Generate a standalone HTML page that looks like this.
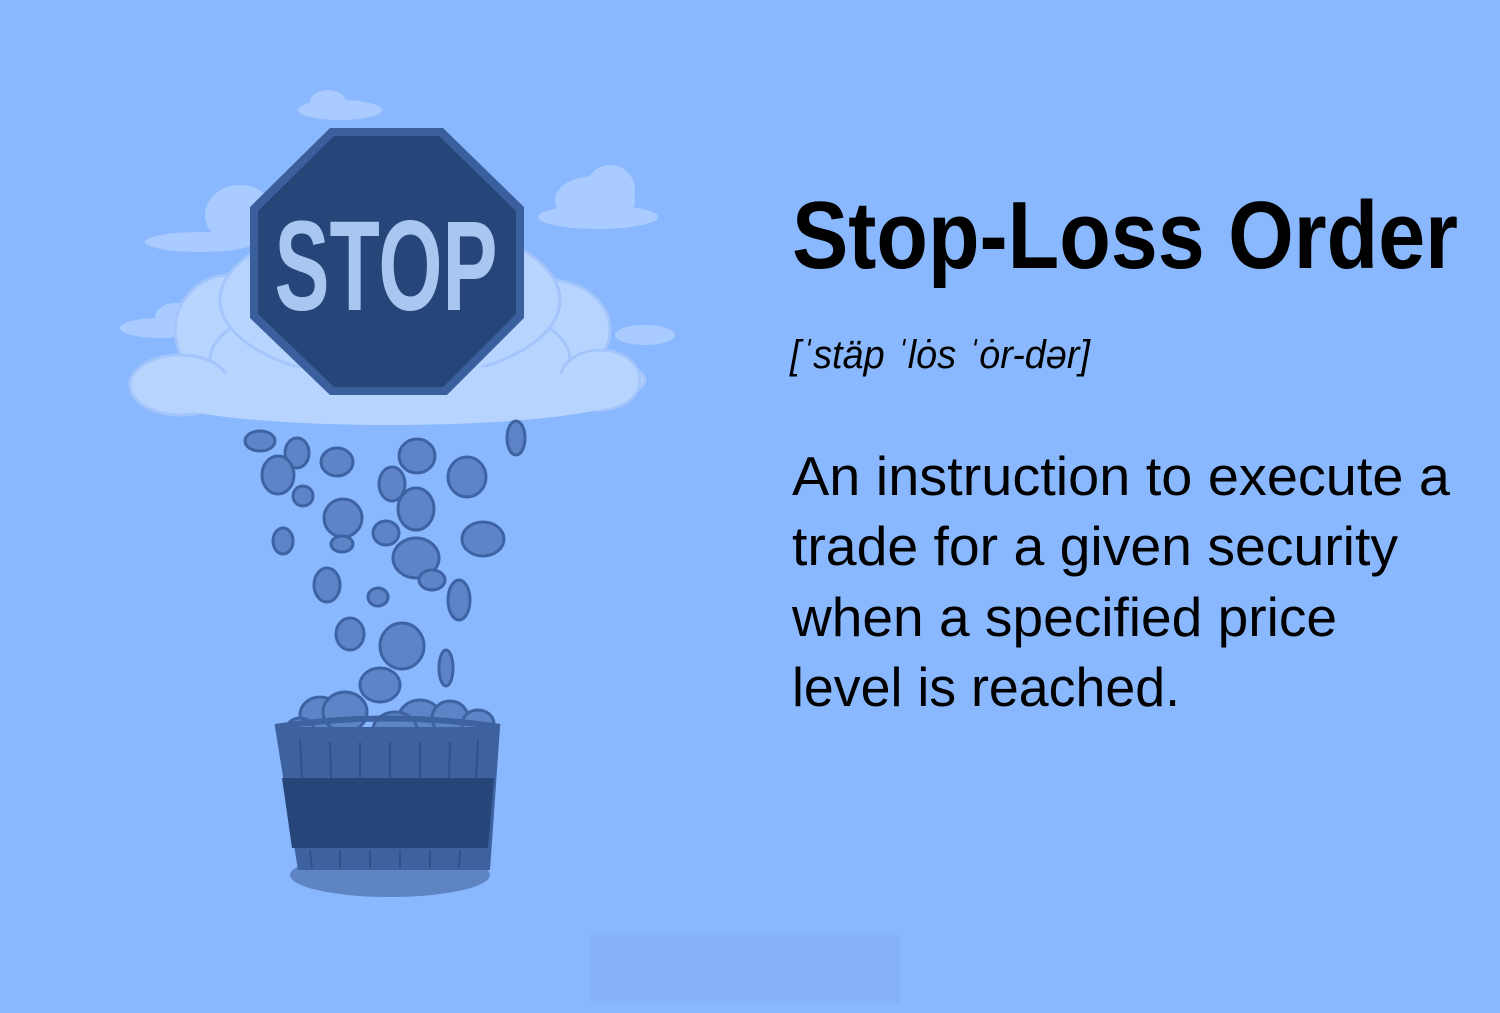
<!DOCTYPE html>
<html><head><meta charset="utf-8"><style>
html,body{margin:0;padding:0;background:#8ab8fe;}
svg{display:block}
text{font-family:"Liberation Sans",sans-serif;}
</style></head><body>
<svg width="1500" height="1013" viewBox="0 0 1500 1013">
<rect width="1500" height="1013" fill="#8ab8fe"/>
<rect x="590" y="935" width="310" height="68" fill="#86b3f8"/>
<g>
 <g fill="#a9cbff">
  <ellipse cx="340" cy="110" rx="42" ry="10"/><ellipse cx="328" cy="102" rx="18" ry="12"/>
  <ellipse cx="598" cy="217" rx="60" ry="12"/><ellipse cx="595" cy="200" rx="40" ry="24"/><ellipse cx="610" cy="190" rx="25" ry="25"/>
  <ellipse cx="200" cy="242" rx="55" ry="10"/><ellipse cx="240" cy="215" rx="35" ry="30"/>
  <ellipse cx="160" cy="328" rx="40" ry="10"/><ellipse cx="175" cy="318" rx="20" ry="15"/>
  <ellipse cx="645" cy="335" rx="30" ry="10"/>
 </g>
 <g fill="#b7d4ff" stroke="#a3c5fb" stroke-width="3">
  <ellipse cx="390" cy="380" rx="255" ry="40"/>
  <ellipse cx="230" cy="330" rx="55" ry="55"/>
  <ellipse cx="550" cy="330" rx="60" ry="50"/>
  <ellipse cx="300" cy="360" rx="90" ry="50"/>
  <ellipse cx="480" cy="360" rx="90" ry="50"/>
  <ellipse cx="180" cy="385" rx="50" ry="30"/>
  <ellipse cx="600" cy="380" rx="40" ry="30"/>
  <ellipse cx="390" cy="300" rx="170" ry="80"/>
 </g>
 <ellipse cx="390" cy="395" rx="240" ry="30" fill="#b7d4ff"/>
</g>
<g>
 <polygon points="330,128 443,128 524,207 524,318 447,395 330,395 250,318 250,207" fill="#3a5f9c"/>
 <polygon points="334,136 439,136 516,211 516,314 443,387 334,387 258,314 258,211" fill="#26467a"/>
 <text x="386" y="310" text-anchor="middle" font-size="128" font-weight="bold" fill="#a8c6f0" textLength="223" lengthAdjust="spacingAndGlyphs">STOP</text>
</g>
<g fill="#5d84c6" stroke="#3e63a3" stroke-width="3">
 <ellipse cx="260" cy="441" rx="15" ry="10"/>
 <ellipse cx="297" cy="453" rx="12" ry="15"/>
 <ellipse cx="278" cy="475" rx="16" ry="19"/>
 <ellipse cx="337" cy="462" rx="16" ry="14"/>
 <ellipse cx="417" cy="456" rx="18" ry="17"/>
 <ellipse cx="467" cy="477" rx="19" ry="20"/>
 <ellipse cx="516" cy="438" rx="9" ry="17"/>
 <ellipse cx="303" cy="496" rx="10" ry="10"/>
 <ellipse cx="392" cy="484" rx="13" ry="17"/>
 <ellipse cx="416" cy="509" rx="18" ry="21"/>
 <ellipse cx="343" cy="518" rx="19" ry="19"/>
 <ellipse cx="283" cy="541" rx="10" ry="13"/>
 <ellipse cx="342" cy="544" rx="11" ry="8"/>
 <ellipse cx="386" cy="533" rx="13" ry="12"/>
 <ellipse cx="483" cy="539" rx="21" ry="17"/>
 <ellipse cx="416" cy="558" rx="23" ry="20"/>
 <ellipse cx="432" cy="580" rx="13" ry="10"/>
 <ellipse cx="327" cy="585" rx="13" ry="17"/>
 <ellipse cx="378" cy="597" rx="10" ry="9"/>
 <ellipse cx="459" cy="600" rx="11" ry="20"/>
 <ellipse cx="350" cy="634" rx="14" ry="16"/>
 <ellipse cx="402" cy="646" rx="22" ry="23"/>
 <ellipse cx="446" cy="668" rx="7" ry="18"/>
 <ellipse cx="380" cy="685" rx="20" ry="17"/>
</g>
<g>
 <ellipse cx="390" cy="875" rx="100" ry="22" fill="#5f84c4"/>
 <g fill="#5d84c6" stroke="#3e63a3" stroke-width="3">
  <ellipse cx="320" cy="715" rx="20" ry="18"/><ellipse cx="345" cy="712" rx="22" ry="20"/>
  <ellipse cx="420" cy="720" rx="22" ry="20"/><ellipse cx="450" cy="718" rx="18" ry="17"/>
  <ellipse cx="478" cy="724" rx="16" ry="14"/><ellipse cx="395" cy="730" rx="22" ry="18"/>
  <ellipse cx="300" cy="730" rx="14" ry="12"/>
 </g>
 <polygon points="275,727 500,727 490,870 298,870" fill="#3e62a0"/>
 <polygon points="282,778 494,778 488,848 292,848" fill="#26467a"/>
 <path d="M275,727 Q388,710 500,727" fill="none" stroke="#3e62a0" stroke-width="6"/>
 <g stroke="#2f518c" stroke-width="2">
  <line x1="300" y1="740" x2="302" y2="778"/><line x1="330" y1="742" x2="331" y2="778"/>
  <line x1="360" y1="742" x2="360" y2="778"/><line x1="390" y1="742" x2="390" y2="778"/>
  <line x1="420" y1="742" x2="420" y2="778"/><line x1="450" y1="742" x2="449" y2="778"/>
  <line x1="478" y1="740" x2="476" y2="778"/>
  <line x1="310" y1="850" x2="312" y2="868"/><line x1="340" y1="850" x2="340" y2="868"/>
  <line x1="370" y1="850" x2="370" y2="868"/><line x1="400" y1="850" x2="400" y2="868"/>
  <line x1="430" y1="850" x2="430" y2="868"/><line x1="460" y1="850" x2="459" y2="868"/>
 </g>
</g>
<g fill="#000">
 <text x="792" y="268" font-size="96" font-weight="bold" textLength="666" lengthAdjust="spacingAndGlyphs">Stop-Loss Order</text>
 <text x="790" y="368" font-size="40" font-style="italic" textLength="300" lengthAdjust="spacingAndGlyphs">[ˈstäp ˈlȯs ˈȯr-dər]</text>
 <text x="792" y="495" font-size="55" textLength="658" lengthAdjust="spacingAndGlyphs">An instruction to execute a</text>
 <text x="792" y="565" font-size="55" textLength="606" lengthAdjust="spacingAndGlyphs">trade for a given security</text>
 <text x="792" y="636" font-size="55" textLength="545" lengthAdjust="spacingAndGlyphs">when a specified price</text>
 <text x="792" y="706" font-size="55" textLength="388" lengthAdjust="spacingAndGlyphs">level is reached.</text>
</g>
</svg>
</body></html>
